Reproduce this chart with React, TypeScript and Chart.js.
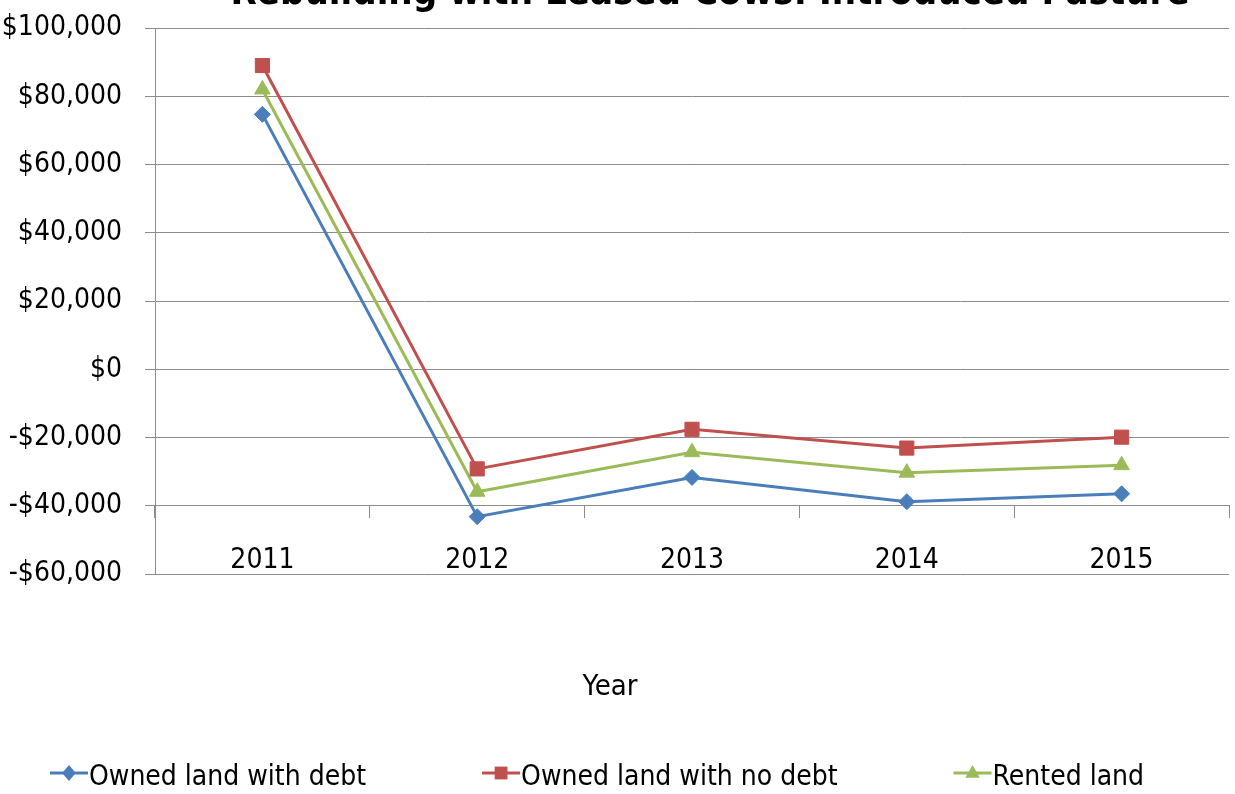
import { useEffect, useRef } from "react";
import { Chart, registerables } from "chart.js";

Chart.register(...registerables);

const TITLE = "Rebuilding with Leased Cows: Introduced Pasture";
const X_TITLE = "Year";
const YEARS = ["2011", "2012", "2013", "2014", "2015"];
const OWNED_DEBT = [74700, -43200, -31700, -38800, -36500];
const OWNED_NO_DEBT = [89000, -29200, -17600, -23100, -19900];
const RENTED = [82000, -35900, -24300, -30300, -28100];
const SERIES_LABELS = ["Owned land with debt", "Owned land with no debt", "Rented land"];
const SERIES_COLORS = ["#4A7EBB", "#C0504D", "#9BBB59"];
const SERIES_MARKERS = ["rectRot", "rect", "triangle"];
const Y_MIN = -60000;
const Y_MAX = 100000;
const Y_STEP = 20000;
const X_AXIS_CROSS = -40000;

const FONT = "'DejaVu Sans Condensed', 'Liberation Sans Narrow', sans-serif";
const GRID = "#8c8c8c";

function money(v: number): string {
  const s = Math.abs(v).toLocaleString("en-US");
  return v < 0 ? "-$" + s : "$" + s;
}

function marker(ctx: CanvasRenderingContext2D, style: string, x: number, y: number, r: number) {
  ctx.beginPath();
  if (style === "rectRot") {
    ctx.moveTo(x, y - r);
    ctx.lineTo(x + r * 0.85, y);
    ctx.lineTo(x, y + r);
    ctx.lineTo(x - r * 0.85, y);
  } else if (style === "rect") {
    const s = r * 0.8;
    ctx.rect(x - s, y - s, 2 * s, 2 * s);
  } else {
    ctx.moveTo(x, y - r);
    ctx.lineTo(x + r * 0.9, y + r * 0.6);
    ctx.lineTo(x - r * 0.9, y + r * 0.6);
  }
  ctx.closePath();
  ctx.fill();
}

const overlay = {
  id: "overlay",
  afterDraw(chart: any) {
    const ctx: CanvasRenderingContext2D = chart.ctx;
    ctx.save();
    ctx.fillStyle = "#000";
    ctx.textBaseline = "alphabetic";
    ctx.textAlign = "center";
    ctx.font = `bold 38px ${FONT}`;
    ctx.fillText(TITLE, 710, 4);
    ctx.font = `29px ${FONT}`;
    ctx.fillText(X_TITLE, 610, 695);

    // legend
    const lineLen = 38;
    const gapAfter = 116;
    ctx.font = `28px ${FONT}`;
    const widths = chart.data.datasets.map((d: any) => lineLen + 1 + ctx.measureText(d.label).width);
    const total = widths.reduce((a: number, b: number) => a + b, 0) + gapAfter * (widths.length - 1);
    let x = 597 - total / 2;
    const yMid = 773;
    const baseline = 785;
    ctx.textAlign = "left";
    chart.data.datasets.forEach((d: any, i: number) => {
      ctx.strokeStyle = d.borderColor;
      ctx.fillStyle = d.borderColor;
      ctx.lineWidth = 3;
      ctx.beginPath();
      ctx.moveTo(x, yMid);
      ctx.lineTo(x + lineLen, yMid);
      ctx.stroke();
      marker(ctx, d.pointStyle, x + lineLen / 2, yMid, 8);
      ctx.fillStyle = "#000";
      ctx.fillText(d.label, x + lineLen + 1, baseline);
      x += widths[i] + gapAfter;
    });
    ctx.restore();
  },
};

export default function App() {
  const ref = useRef<HTMLCanvasElement | null>(null);

  useEffect(() => {
    if (!ref.current) return;
    const seriesValues = [OWNED_DEBT, OWNED_NO_DEBT, RENTED];
    const chart = new Chart(ref.current, {
      type: "line",
      data: {
        labels: YEARS,
        datasets: seriesValues.map((vals, i) => ({
          label: SERIES_LABELS[i],
          data: vals,
          borderColor: SERIES_COLORS[i],
          backgroundColor: SERIES_COLORS[i],
          pointBackgroundColor: SERIES_COLORS[i],
          pointBorderColor: SERIES_COLORS[i],
          pointStyle: SERIES_MARKERS[i] as any,
          pointRadius: SERIES_MARKERS[i] === "rect" ? 10 : SERIES_MARKERS[i] === "triangle" ? 9 : 8,
          pointBorderWidth: 1,
          borderWidth: 3,
          tension: 0,
          fill: false,
        })),
      },
      options: {
        responsive: false,
        animation: false,
        devicePixelRatio: 1,
        layout: { autoPadding: false, padding: { left: 0, top: 28, right: 6, bottom: 220 } },
        plugins: {
          legend: { display: false },
          title: { display: false },
          tooltip: { enabled: false },
        },
        scales: {
          x: {
            type: "category",
            position: { y: X_AXIS_CROSS } as any,
            offset: true,
            afterFit: (scale: any) => {
              scale.paddingLeft = 0;
              scale.paddingRight = 0;
            },
            grid: {
              offset: true,
              drawOnChartArea: false,
              drawTicks: true,
              tickLength: 12,
              color: GRID,
              lineWidth: 1,
            },
            border: { display: true, color: GRID, width: 1 },
            ticks: {
              color: "#000",
              font: { family: FONT, size: 28 },
              padding: 26,
              maxRotation: 0,
              autoSkip: false,
            },
          },
          y: {
            min: Y_MIN,
            max: Y_MAX,
            afterFit: (scale: any) => {
              scale.width = 155;
              scale.paddingTop = 0;
              scale.paddingBottom = 0;
            },
            grid: {
              color: GRID,
              lineWidth: 1,
              drawTicks: true,
              tickLength: 10,
            },
            border: { display: true, color: GRID, width: 1 },
            ticks: {
              stepSize: Y_STEP,
              color: "#000",
              font: { family: FONT, size: 28 },
              padding: 23,
              callback: (v: any) => money(Number(v)),
            },
          },
        },
      },
      plugins: [overlay],
    });
    return () => chart.destroy();
  }, []);

  return (
    <div style={{ position: "absolute", left: 0, top: 0, width: 1235, height: 794, background: "#fff" }}>
      <canvas ref={ref} width={1235} height={794} style={{ display: "block" }} />
    </div>
  );
}
